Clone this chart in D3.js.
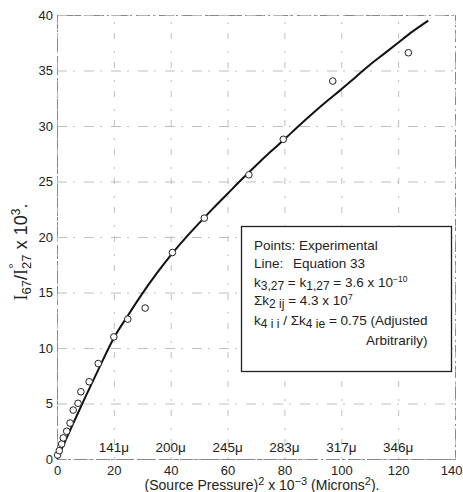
<!DOCTYPE html>
<html>
<head>
<meta charset="utf-8">
<script src="https://cdn.jsdelivr.net/npm/d3@7"></script>
<style>
  html, body { margin: 0; padding: 0; background: #fff; }
  svg { display: block; }
  text { font-family: "Liberation Sans", Arial, sans-serif; fill: #222; }
</style>
</head>
<body>
<svg id="chart" width="463" height="492"></svg>
<script>
// Measured points: (source pressure)^2 x 10^-3 vs I67/I27 x 10^3
const pointX = [0.2, 0.8, 1.65, 2.2, 3.4, 4.6, 5.7, 7.4, 8.4, 11.3, 14.5, 20.0, 24.9, 31.0, 40.6, 51.8, 67.5, 79.6, 97.0, 123.6];
const pointY = [0.36, 0.75, 1.35, 1.9, 2.5, 3.24, 4.41, 5.02, 6.06, 6.96, 8.6, 11.0, 12.6, 13.6, 18.6, 21.7, 25.6, 28.8, 34.05, 36.6];

// Calculated curve (Equation 33)
const curveX = [0, 5, 10, 15, 20, 25, 30, 35, 40, 45, 50, 55, 60, 65, 70, 75, 80, 85, 90, 95, 100, 105, 110, 115, 120, 125, 130.6];
const curveY = [0, 2.8, 5.6, 8.3, 10.9, 12.95, 14.9, 16.7, 18.35, 19.85, 21.25, 22.6, 23.9, 25.2, 26.45, 27.65, 28.8, 30.0, 31.15, 32.25, 33.3, 34.4, 35.5, 36.5, 37.5, 38.5, 39.5];

// Axis ticks
const xTicks = [0, 20, 40, 60, 80, 100, 120, 140];
const yTicks = [0, 5, 10, 15, 20, 25, 30, 35, 40];

// Corresponding source pressures in microns
const muLabels = ["141\u03bc", "200\u03bc", "245\u03bc", "283\u03bc", "317\u03bc", "346\u03bc"];
const muPos = [20, 40, 60, 80, 100, 120];

const svg = d3.select("#chart");

const plotLeft = 57, plotRight = 455, plotTop = 15, plotBottom = 459;
const x = d3.scaleLinear().domain([0, 140]).range([plotLeft, plotRight]);
const y = d3.scaleLinear().domain([0, 40]).range([plotBottom, plotTop]);

const gridColor = "#b8b8b8";

// Y axis with horizontal grid lines
const yAxis = svg.append("g")
  .attr("transform", `translate(${plotLeft},0)`)
  .call(d3.axisLeft(y).tickValues(yTicks).tickSize(-(plotRight - plotLeft)).tickPadding(4));
yAxis.select(".domain").attr("stroke", "#888").attr("stroke-dasharray", "14,3,2,4").attr("stroke-width", 1);
yAxis.selectAll(".tick line").attr("stroke", gridColor).attr("stroke-dasharray", "10,6,2,9").attr("stroke-width", 0.9);
yAxis.selectAll(".tick text").attr("font-size", 13).attr("fill", "#333").attr("x", -4);

// X axis with vertical grid lines
const xAxis = svg.append("g")
  .attr("transform", `translate(0,${plotBottom})`)
  .call(d3.axisBottom(x).tickValues(xTicks).tickSize(-(plotBottom - plotTop)).tickPadding(7));
xAxis.select(".domain").attr("stroke", "#888").attr("stroke-dasharray", "12,3,2,4").attr("stroke-width", 1);
xAxis.selectAll(".tick line").attr("stroke", gridColor).attr("stroke-dasharray", "2,12,6,9").attr("stroke-width", 0.9);
xAxis.selectAll(".tick text").attr("font-size", 13).attr("fill", "#333");
xAxis.selectAll(".tick text").filter(d => d === 140).attr("text-anchor", "end").attr("dx", 7);
svg.selectAll(".tick text").style("font-family", "'Liberation Sans', Arial, sans-serif");

// Source pressure labels above the x axis
svg.append("g").selectAll("text")
  .data(muLabels)
  .join("text")
  .attr("x", (d, i) => x(muPos[i]))
  .attr("y", 452)
  .attr("text-anchor", "middle")
  .attr("font-size", 13.5)
  .text(d => d);

// Legend box
const box = svg.append("g");
box.append("rect")
  .attr("x", 241.5).attr("y", 226.5)
  .attr("width", 210).attr("height", 145)
  .attr("fill", "#fff").attr("stroke", "#222").attr("stroke-width", 1.3);

const lx = 254;
const lfs = 13.5;
const sfs = 12;
box.append("text").attr("x", lx).attr("y", 250).attr("font-size", lfs).text("Points: Experimental");
const l2 = box.append("text").attr("x", lx).attr("y", 268).attr("font-size", lfs);
l2.append("tspan").text("Line:");
l2.append("tspan").attr("x", 293).text("Equation 33");

const l3 = box.append("text").attr("x", lx).attr("y", 287).attr("font-size", lfs);
l3.append("tspan").text("k");
l3.append("tspan").attr("font-size", sfs).attr("dy", 3).text("3,27");
l3.append("tspan").attr("dy", -3).text(" = k");
l3.append("tspan").attr("font-size", sfs).attr("dy", 3).text("1,27");
l3.append("tspan").attr("dy", -3).text(" = 3.6 x 10");
l3.append("tspan").attr("font-size", 8.5).attr("dy", -5).text("\u221210");

const l4 = box.append("text").attr("x", lx).attr("y", 305).attr("font-size", lfs);
l4.append("tspan").text("\u03a3k");
l4.append("tspan").attr("font-size", sfs).attr("dy", 3).text("2 ij");
l4.append("tspan").attr("dy", -3).text(" = 4.3 x 10");
l4.append("tspan").attr("font-size", 8.5).attr("dy", -5).text("7");

const l5 = box.append("text").attr("x", lx).attr("y", 325).attr("font-size", lfs);
l5.append("tspan").text("k");
l5.append("tspan").attr("font-size", sfs).attr("dy", 3).text("4 i i");
l5.append("tspan").attr("dy", -3).text(" / \u03a3k");
l5.append("tspan").attr("font-size", sfs).attr("dy", 3).text("4 ie");
l5.append("tspan").attr("dy", -3).text(" = 0.75 (Adjusted");

box.append("text").attr("x", 366).attr("y", 345).attr("font-size", lfs).text("Arbitrarily)");

// Calculated curve
const line = d3.line()
  .x((d, i) => x(curveX[i]))
  .y((d, i) => y(curveY[i]))
  .curve(d3.curveMonotoneX);
svg.append("path")
  .datum(curveX)
  .attr("d", line)
  .attr("fill", "none")
  .attr("stroke", "#111")
  .attr("stroke-width", 2);

// Experimental points
svg.append("g").selectAll("circle")
  .data(pointX)
  .join("circle")
  .attr("cx", (d, i) => x(d))
  .attr("cy", (d, i) => y(pointY[i]))
  .attr("r", 3.3)
  .attr("fill", "#fff")
  .attr("stroke", "#222")
  .attr("stroke-width", 1);

// Axis titles
const xt = svg.append("text")
  .attr("x", 262).attr("y", 490)
  .attr("text-anchor", "middle")
  .attr("font-size", 14);
xt.append("tspan").text("(Source Pressure)");
xt.append("tspan").attr("font-size", 11).attr("dy", -5).text("2");
xt.append("tspan").attr("dy", 5).text(" x 10");
xt.append("tspan").attr("font-size", 11).attr("dy", -5).text("\u22123");
xt.append("tspan").attr("dy", 5).text(" (Microns");
xt.append("tspan").attr("font-size", 11).attr("dy", -5).text("2");
xt.append("tspan").attr("dy", 5).text(").");

const yt = svg.append("text")
  .attr("transform", "translate(27,252) rotate(-90)")
  .attr("text-anchor", "middle")
  .attr("font-size", 18);
yt.append("tspan").attr("font-family", "'Liberation Serif', serif").text("I");
yt.append("tspan").attr("font-size", 13).attr("dy", 4).text("67");
yt.append("tspan").attr("dy", -4).text("/");
yt.append("tspan").attr("font-family", "'Liberation Serif', serif").text("I");
yt.append("tspan").attr("font-size", 13).attr("dy", 4).text("27");
yt.append("tspan").attr("font-size", 13).attr("dy", -13).attr("dx", -14).text("\u00b0");
yt.append("tspan").attr("dy", 9).attr("dx", 9).text(" x 10");
yt.append("tspan").attr("font-size", 12).attr("dy", -7).text("3");
yt.append("tspan").attr("dy", 7).text(".");
</script>
</body>
</html>
